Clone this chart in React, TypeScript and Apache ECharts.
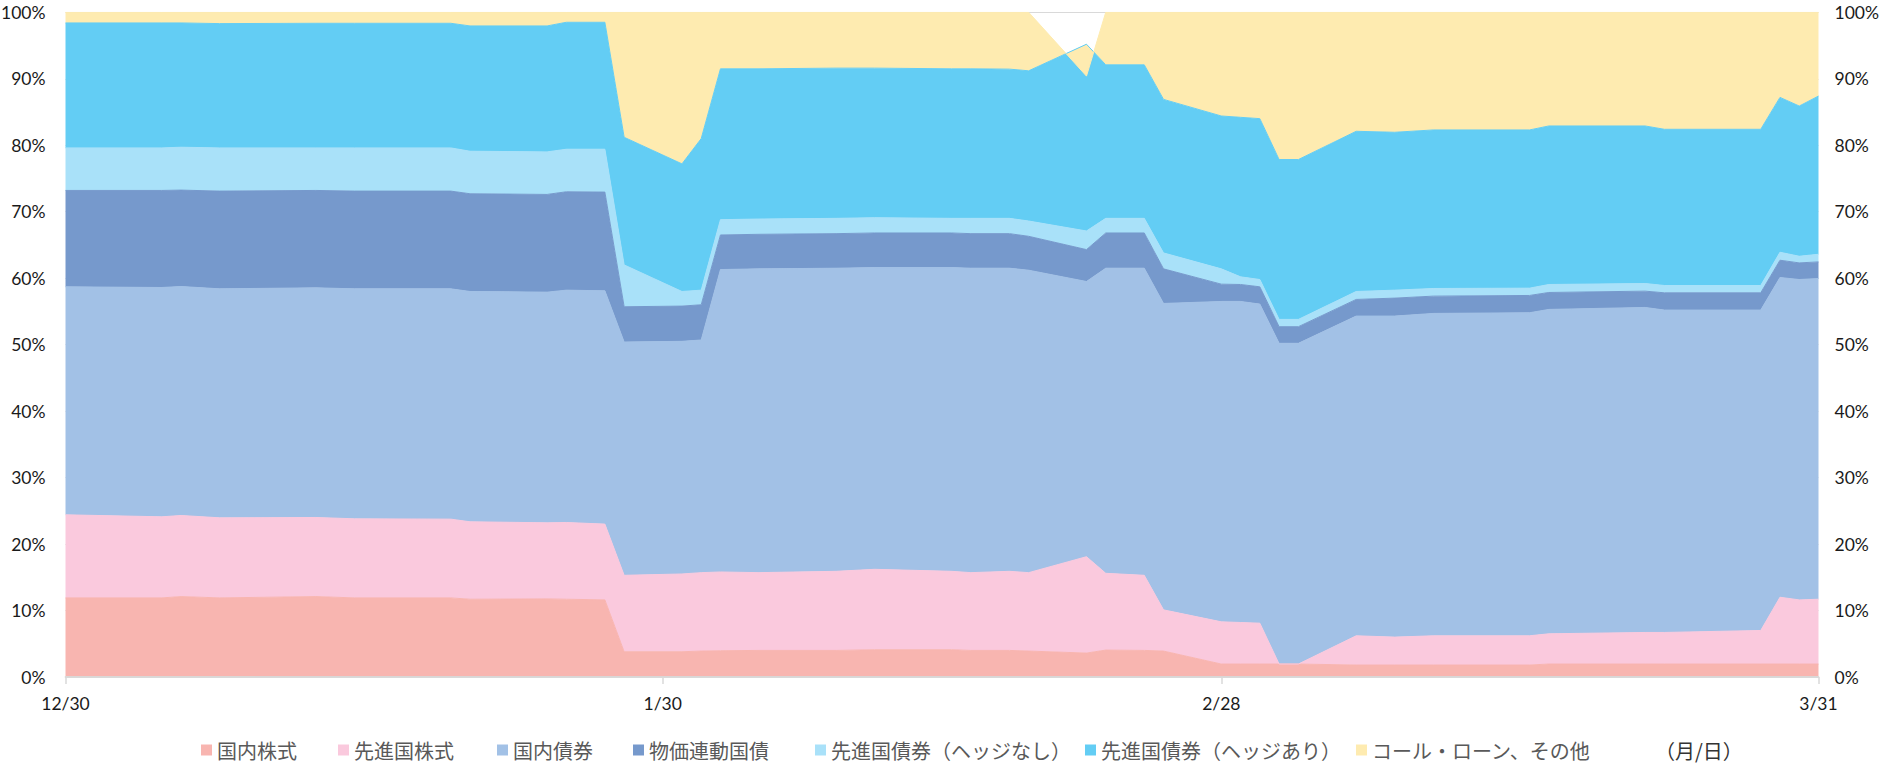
import React, { useEffect, useRef } from 'react';
import * as echarts from 'echarts';

// Dates of the data points (days where the composition changes)
const dates = [
  '2024-12-30', '2025-01-04', '2025-01-05', '2025-01-07', '2025-01-12', '2025-01-14', '2025-01-19', '2025-01-20',
  '2025-01-24', '2025-01-25', '2025-01-27', '2025-01-28', '2025-01-31', '2025-02-01', '2025-02-02', '2025-02-04',
  '2025-02-08', '2025-02-10', '2025-02-14', '2025-02-15', '2025-02-17', '2025-02-18', '2025-02-21', '2025-02-22',
  '2025-02-24', '2025-02-25', '2025-02-28', '2025-03-01', '2025-03-02', '2025-03-03', '2025-03-04', '2025-03-07',
  '2025-03-09', '2025-03-11', '2025-03-16', '2025-03-17', '2025-03-22', '2025-03-23', '2025-03-28', '2025-03-29',
  '2025-03-30', '2025-03-31',
];

const tickDates = ['2024-12-30', '2025-01-30', '2025-02-28', '2025-03-31'];
const tickLabels = ['12/30', '1/30', '2/28', '3/31'];

// 国内株式
const domesticEquity = [
  11.9, 11.9, 12.1, 11.9, 12.1, 11.9, 11.9, 11.7, 11.75, 11.7, 11.6,
  3.8, 3.8, 3.9, 3.95, 4.0, 4.0, 4.1, 4.1, 4.0, 4.0, 3.9, 3.6, 4.05, 4.0, 3.9,
  1.95, 1.95, 1.95, 1.95, 1.95, 1.8, 1.8, 1.8, 1.8, 1.95, 1.95, 1.95, 1.95, 1.95, 1.95, 1.95,
];
// 先進国株式
const foreignEquity = [
  12.5, 12.2, 12.2, 12.05, 11.9, 11.9, 11.85, 11.65, 11.45, 11.55, 11.4,
  11.5, 11.7, 11.8, 11.85, 11.7, 11.9, 12.1, 11.8, 11.7, 11.9, 11.8, 14.5, 11.55, 11.3, 6.2,
  6.35, 6.25, 6.15, 0, 0, 4.4, 4.2, 4.4, 4.4, 4.55, 4.75, 4.75, 5.05, 10.05, 9.65, 9.75,
];
// 国内債券
const domesticBond = [
  34.3, 34.5, 34.45, 34.45, 34.55, 34.6, 34.65, 34.65, 34.7, 34.95, 35.1,
  35.1, 35.0, 35.0, 45.5, 45.7, 45.6, 45.4, 45.7, 45.8, 45.6, 45.5, 41.4, 45.9, 46.2, 46.1,
  48.2, 48.3, 48.0, 48.25, 48.25, 48.1, 48.3, 48.5, 48.6, 48.8, 48.9, 48.5, 48.2, 48.1, 48.2, 48.25,
];
// 物価連動国債
const inflationLinked = [
  14.5, 14.6, 14.5, 14.7, 14.65, 14.7, 14.7, 14.7, 14.7, 14.8, 14.85,
  5.3, 5.3, 5.3, 5.2, 5.2, 5.2, 5.2, 5.2, 5.2, 5.2, 5.1, 4.8, 5.3, 5.3, 5.2,
  2.6, 2.55, 2.6, 2.5, 2.5, 2.5, 2.7, 2.6, 2.6, 2.55, 2.45, 2.6, 2.6, 2.6, 2.5, 2.5,
];
// 先進国債券（ヘッジなし）
const foreignBondUnhedged = [
  6.4, 6.4, 6.45, 6.5, 6.4, 6.5, 6.5, 6.4, 6.4, 6.4, 6.45,
  6.3, 2.2, 2.2, 2.3, 2.3, 2.3, 2.3, 2.2, 2.3, 2.3, 2.3, 2.8, 2.2, 2.2, 2.4,
  2.3, 1.15, 1.1, 1.1, 1.1, 1.2, 1.2, 1.15, 1.1, 1.2, 1.15, 1.1, 1.1, 1.2, 1.0, 1.15,
];
// 先進国債券（ヘッジあり）
const foreignBondHedged = [
  18.8, 18.8, 18.7, 18.7, 18.75, 18.75, 18.75, 18.85, 18.95, 19.1, 19.1,
  19.2, 19.2, 22.8, 22.7, 22.6, 22.6, 22.5, 22.5, 22.5, 22.45, 22.6, 28.1, 23.1, 23.1, 23.1,
  23.0, 24.0, 24.2, 24.05, 24.05, 24.1, 23.75, 23.85, 23.8, 23.85, 23.7, 23.5, 23.5, 23.3, 22.6, 23.8,
];
// コール・ローン、その他
const callLoanOther = [
  1.6, 1.6, 1.6, 1.7, 1.65, 1.65, 1.65, 2.05, 2.05, 1.5, 1.5,
  18.8, 22.8, 19.0, 8.5, 8.5, 8.4, 8.4, 8.5, 8.5, 8.55, 8.8, -4.8, 7.9, 7.9, 13.1,
  15.6, 15.8, 16.0, 22.15, 22.15, 17.9, 18.05, 17.7, 17.7, 17.1, 17.1, 17.6, 17.6, 12.8, 14.1, 12.6,
];

const seriesNames = [
  '国内株式', '先進国株式', '国内債券', '物価連動国債',
  '先進国債券（ヘッジなし）', '先進国債券（ヘッジあり）', 'コール・ローン、その他',
];
const seriesValues = [
  domesticEquity, foreignEquity, domesticBond, inflationLinked,
  foreignBondUnhedged, foreignBondHedged, callLoanOther,
];
const colors = ['#F8B5B0', '#FAC9DD', '#A2C1E6', '#7699CC', '#A9E1F9', '#63CDF4', '#FEEBB0'];
const legendLefts = [201, 338, 497, 633, 815, 1085, 1356];

const DAY = 86400000;
const toTime = (s: string) => {
  const [y, m, d] = s.split('-').map(Number);
  return Date.UTC(y, m - 1, d);
};

const LABEL_FONT = 'Lato, "Liberation Sans", sans-serif';
const CJK_FONT = '"Noto Sans CJK JP", "Noto Sans", sans-serif';

export default function App() {
  const ref = useRef<HTMLDivElement>(null);

  useEffect(() => {
    if (!ref.current) return;
    const chart = echarts.init(ref.current, undefined, { renderer: 'svg' });
    const times = dates.map(toTime);
    const tickTimes = tickDates.map(toTime);
    const tMin = tickTimes[0];
    const tMax = tickTimes[tickTimes.length - 1];
    const tickDays = tickTimes.map((t) => Math.round((t - tMin) / DAY));
    const spanDays = tickDays[tickDays.length - 1];

    const option: any = {
      animation: false,
      backgroundColor: '#ffffff',
      grid: {
        left: 65.5,
        right: 60.5,
        top: 12.3,
        bottom: 87,
        containLabel: false,
        outerBoundsMode: 'none',
      },
      legend: seriesNames.map((n, i) => ({
        data: [n],
        left: legendLefts[i],
        top: 738,
        padding: 0,
        itemWidth: 11,
        itemHeight: 11,
        itemGap: 0,
        icon: 'rect',
        selectedMode: false,
        textStyle: { fontSize: 20, fontFamily: CJK_FONT, color: '#595959', lineHeight: 24 },
      })),
      graphic: [
        {
          type: 'text',
          left: 1655,
          top: 738,
          style: { text: '（月/日）', fontSize: 20, lineHeight: 24, fontFamily: CJK_FONT, fill: '#333333' },
        },
      ],
      xAxis: [
        {
          type: 'time',
          min: tMin,
          max: tMax,
          z: 10,
          axisLine: { show: true, lineStyle: { color: '#D9D9D9', width: 1.5 } },
          axisTick: { show: false },
          axisLabel: { show: false },
          splitLine: { show: false },
        },
        {
          type: 'time',
          position: 'top',
          min: tMin,
          max: tMax,
          z: 10,
          axisLine: { show: true, lineStyle: { color: '#D9D9D9', width: 1.5 } },
          axisTick: { show: false },
          axisLabel: { show: false },
          splitLine: { show: false },
        },
        {
          type: 'value',
          position: 'bottom',
          min: 0,
          max: spanDays,
          z: 10,
          axisLine: { show: false },
          axisTick: { show: true, customValues: tickDays, length: 7, lineStyle: { color: '#D9D9D9', width: 1.5 } },
          axisLabel: {
            customValues: tickDays,
            formatter: (v: number) => {
              const k = tickDays.indexOf(Math.round(v));
              return k >= 0 ? tickLabels[k] : '';
            },
            margin: 17,
            fontSize: 17.5,
            fontFamily: LABEL_FONT,
            color: '#1a1a1a',
            showMinLabel: true,
            showMaxLabel: true,
          },
          splitLine: { show: false },
        },
      ],
      yAxis: [
        {
          type: 'value',
          position: 'left',
          min: 0,
          max: 100,
          interval: 10,
          axisLine: { show: false },
          axisTick: { show: false },
          axisLabel: { formatter: '{value}%', margin: 20, fontSize: 17.5, fontFamily: LABEL_FONT, color: '#1a1a1a' },
          splitLine: { show: true, lineStyle: { color: '#D9D9D9' } },
        },
        {
          type: 'value',
          position: 'right',
          min: 0,
          max: 100,
          interval: 10,
          axisLine: { show: false },
          axisTick: { show: false },
          axisLabel: { formatter: '{value}%', margin: 16, fontSize: 17.5, fontFamily: LABEL_FONT, color: '#1a1a1a' },
          splitLine: { show: false },
        },
      ],
      series: seriesNames.map((name, i) => ({
        name,
        type: 'line',
        stack: 'total',
        stackStrategy: 'all',
        xAxisIndex: 0,
        yAxisIndex: 0,
        color: colors[i],
        itemStyle: { color: colors[i] },
        symbol: 'none',
        showSymbol: false,
        silent: true,
        emphasis: { disabled: true },
        lineStyle: { width: 1, color: colors[i] },
        areaStyle: { color: colors[i], opacity: 1 },
        data: times.map((t, k) => [t, seriesValues[i][k]]),
      })),
    };

    chart.setOption(option);
    return () => chart.dispose();
  }, []);

  return (
    <div
      ref={ref}
      style={{ position: 'fixed', left: 0, top: 0, width: 1879, height: 764, background: '#fff' }}
    />
  );
}
